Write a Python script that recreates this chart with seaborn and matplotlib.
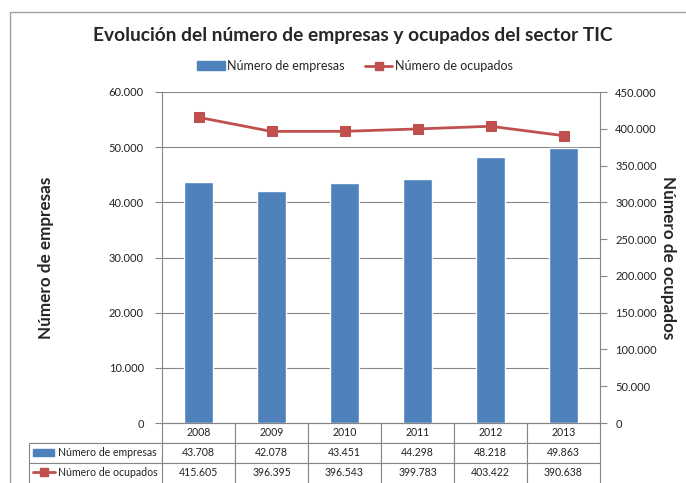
import matplotlib.pyplot as plt
import matplotlib.ticker as mticker
from matplotlib.lines import Line2D
from matplotlib.patches import Patch, Rectangle
import pandas as pd
import seaborn as sns

years = ["2008", "2009", "2010", "2011", "2012", "2013"]
empresas = [43708, 42078, 43451, 44298, 48218, 49863]
ocupados = [415605, 396395, 396543, 399783, 403422, 390638]

title = "Evolución del número de empresas y ocupados del sector TIC"
lab_emp = "Número de empresas"
lab_ocu = "Número de ocupados"

BLUE = "#4F81BD"
RED = "#C0504D"
GRID = "#868686"

sns.set_style("white")
plt.rcParams["font.family"] = ["Lato", "DejaVu Sans"]


def es_fmt(v, pos=None):
    return f"{v:,.0f}".replace(",", ".")


df = pd.DataFrame({"year": years, "empresas": empresas, "ocupados": ocupados})

W, H = 686, 483
fig = plt.figure(figsize=(W / 100, H / 100), dpi=100)
# plot area in pixels: x 162..600, y 92..423
ax = fig.add_axes([162 / W, 1 - 423 / H, 438 / W, 331 / H])

sns.barplot(data=df, x="year", y="empresas", color=BLUE, width=0.4,
            saturation=1, ax=ax)
ax.set_ylim(0, 60000)
ax.yaxis.set_major_locator(mticker.MultipleLocator(10000))
ax.yaxis.set_major_formatter(mticker.FuncFormatter(es_fmt))
ax.grid(axis="y", color=GRID, lw=0.8)
ax.set_axisbelow(True)
ax.set_xlabel("")
ax.set_ylabel(lab_emp, fontsize=12.3, fontweight="bold", va="center")
ax.yaxis.set_label_coords((46 - 162) / 438, 0.5)
ax.set_xticks([])
ax.set_xlim(-0.5, len(years) - 0.5)
for s in ["top", "right"]:
    ax.spines[s].set_visible(False)
ax.spines["left"].set_color(GRID)
ax.spines["bottom"].set_color(GRID)
ax.tick_params(axis="y", length=5, color=GRID, labelsize=8, pad=8,
               left=True, labelcolor="#222222")

ax2 = ax.twinx()
sns.lineplot(data=df, x="year", y="ocupados", color=RED, marker="s",
             markersize=7, markeredgecolor=RED, lw=2, ax=ax2)
ax2.set_ylim(0, 450000)
ax2.yaxis.set_major_locator(mticker.MultipleLocator(50000))
ax2.yaxis.set_major_formatter(mticker.FuncFormatter(es_fmt))
ax2.set_xlim(-0.5, len(years) - 0.5)
ax2.set_xlabel("")
ax2.set_ylabel(lab_ocu, fontsize=12.3, fontweight="bold", rotation=-90,
               va="center")
ax2.yaxis.set_label_coords((668 - 162) / 438, 0.5)
for s in ["top", "left", "bottom"]:
    ax2.spines[s].set_visible(False)
ax2.spines["right"].set_color(GRID)
ax2.tick_params(axis="y", length=5, color=GRID, labelsize=8, pad=6,
                right=True, labelcolor="#222222")

# data table below the plot
label_w = 133 / 438
rows = [[""] + years,
        [lab_emp] + [es_fmt(v) for v in empresas],
        [lab_ocu] + [es_fmt(v) for v in ocupados]]
col_w = [label_w] + [1 / len(years)] * len(years)
tab = ax.table(cellText=rows, colWidths=col_w, cellLoc="center",
               bbox=[-label_w, -60 / 331, 1 + label_w, 60 / 331])
tab.auto_set_font_size(False)
for (r, c), cell in tab.get_celld().items():
    cell.set_edgecolor(GRID)
    cell.set_linewidth(0.8)
    cell.get_text().set_fontsize(7.6)
    cell.get_text().set_color("#222222")
    if c == 0:
        cell.get_text().set_ha("left")
        cell.PAD = 29 / 133
        cell._loc = "left"
    if r == 0 and c == 0:
        cell.visible_edges = "B"
    if r == 2:
        cell.visible_edges = "LTR"

# key icons in the table's label column
fig.add_artist(Rectangle((33 / W, 1 - 456 / H), 21 / W, 7 / H,
                         transform=fig.transFigure, color=BLUE))
fig.add_artist(Line2D([33 / W, 55 / W], [1 - 472 / H] * 2, color=RED, lw=2,
                      transform=fig.transFigure))
fig.add_artist(Line2D([44 / W], [1 - 472 / H], color=RED, marker="s",
                      markersize=6, lw=0, transform=fig.transFigure))

handles = [Patch(color=BLUE, label=lab_emp),
           Line2D([], [], color=RED, lw=2, marker="s", markersize=6,
                  label=lab_ocu)]
fig.legend(handles=handles, loc="center", bbox_to_anchor=(355 / W, 1 - 66 / H),
           ncol=2, frameon=False, fontsize=9, handlelength=2.2,
           handletextpad=0.2, columnspacing=1.6)

fig.suptitle(title, x=353 / W, y=1 - 35 / H, va="center",
             fontsize=13.8, fontweight="bold")

fig.add_artist(Rectangle((10 / W, -0.05), 1.0, 1 - 12 / H + 0.05,
                         transform=fig.transFigure, fill=False,
                         edgecolor="#A0A0A0", lw=1))

fig.savefig("out.png", dpi=100)
